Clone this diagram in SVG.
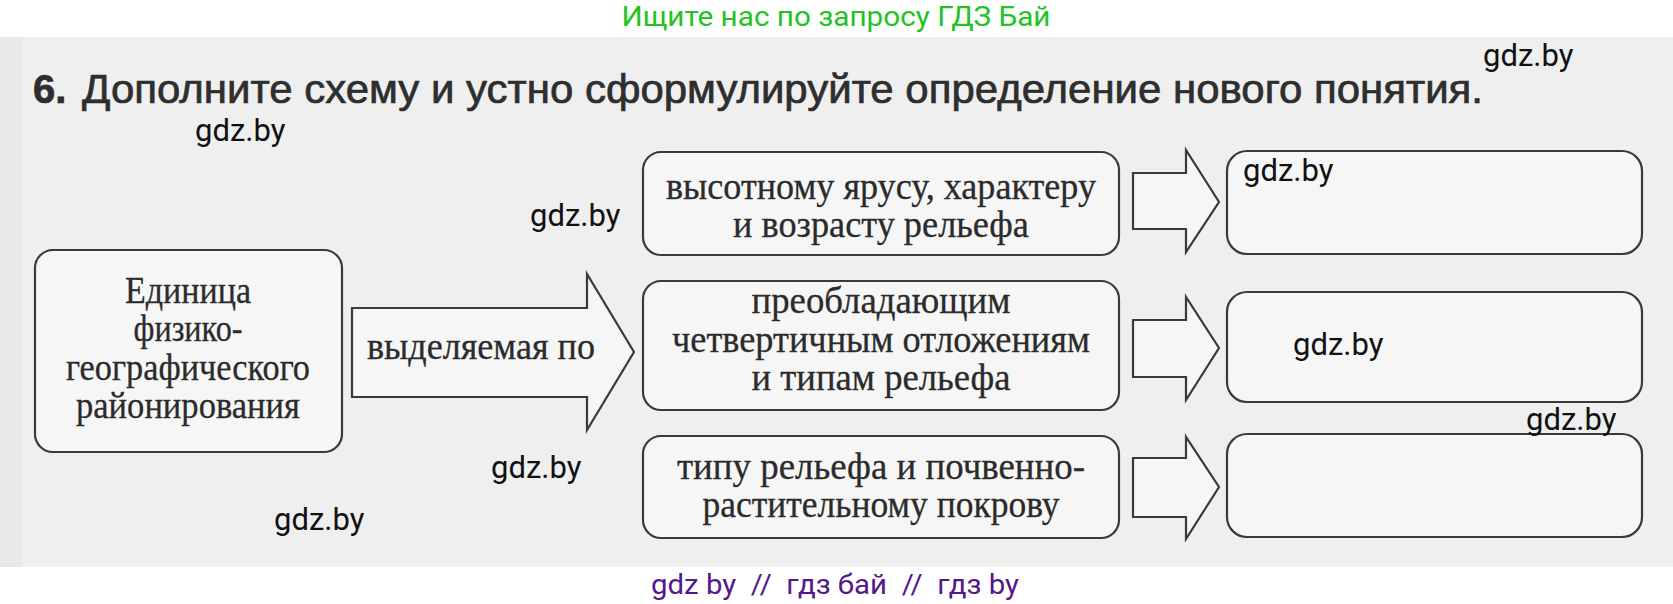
<svg xmlns="http://www.w3.org/2000/svg" width="1673" height="604" viewBox="0 0 1673 604">
  <style>
    .box { fill: #f6f6f6; stroke: #3a3a3a; stroke-width: 2.2; }
    .arr { fill: #f6f6f6; stroke: #3a3a3a; stroke-width: 2.2; stroke-linejoin: miter; }
    .t { font-family: "Liberation Serif", "Times New Roman", serif; font-size: 38px; fill: #2b2b2b; stroke: #2b2b2b; stroke-width: 0.3; text-anchor: middle; }
    .wm { font-family: Roboto, "Liberation Sans", Arial, sans-serif; font-size: 31px; fill: #111; }
    .title { font-family: "Liberation Sans", Arial, sans-serif; font-size: 40px; fill: #2e2e2e; stroke: #2e2e2e; stroke-width: 0.7; }
  </style>
  <rect x="0" y="0" width="1673" height="604" fill="#ffffff"/>
  <rect x="0" y="37" width="1673" height="530" fill="#efefef"/>
  <rect x="0" y="37" width="22" height="530" fill="#e9e9e9"/>

  <text x="836" y="26" font-family="Roboto, 'Liberation Sans', sans-serif" font-size="28" fill="#22c322" text-anchor="middle" textLength="429" lengthAdjust="spacingAndGlyphs">Ищите нас по запросу ГДЗ Бай</text>

  <text class="title" x="33" y="103" font-weight="bold">6.</text>
  <text class="title" x="82" y="103" textLength="1401" lengthAdjust="spacingAndGlyphs">Дополните схему и устно сформулируйте определение нового понятия.</text>

  <g id="connectors">
    <path class="arr" d="M352,308 H587 V274 L634,352 L587,430 V397 H352 Z"/>
    <path class="arr" d="M1133,173 H1186 V150 L1219,202 L1186,252 V229 H1133 Z"/>
    <path class="arr" d="M1133,320 H1186 V297 L1219,348 L1186,400 V377 H1133 Z"/>
    <path class="arr" d="M1133,458 H1186 V437 L1219,487 L1186,539 V517 H1133 Z"/>
    <text class="t" x="481" y="359" textLength="228" lengthAdjust="spacingAndGlyphs">выделяемая по</text>
  </g>

  <g id="node-unit">
    <rect class="box" x="35" y="250" width="307" height="202" rx="18"/>
    <text class="t" x="188" y="303" textLength="126" lengthAdjust="spacingAndGlyphs">Единица</text>
    <text class="t" x="188" y="341" textLength="109" lengthAdjust="spacingAndGlyphs">физико-</text>
    <text class="t" x="188" y="380" textLength="244" lengthAdjust="spacingAndGlyphs">географического</text>
    <text class="t" x="188" y="418" textLength="224" lengthAdjust="spacingAndGlyphs">районирования</text>
  </g>

  <g id="node-top">
    <rect class="box" x="643" y="152" width="476" height="103" rx="18"/>
    <text class="t" x="881" y="199" textLength="430" lengthAdjust="spacingAndGlyphs">высотному ярусу, характеру</text>
    <text class="t" x="881" y="237" textLength="296" lengthAdjust="spacingAndGlyphs">и возрасту рельефа</text>
  </g>

  <g id="node-middle">
    <rect class="box" x="643" y="281" width="476" height="129" rx="18"/>
    <text class="t" x="881" y="313" textLength="259" lengthAdjust="spacingAndGlyphs">преобладающим</text>
    <text class="t" x="881" y="352" textLength="418" lengthAdjust="spacingAndGlyphs">четвертичным отложениям</text>
    <text class="t" x="881" y="390" textLength="259" lengthAdjust="spacingAndGlyphs">и типам рельефа</text>
  </g>

  <g id="node-bottom">
    <rect class="box" x="643" y="436" width="476" height="102" rx="18"/>
    <text class="t" x="881" y="479" textLength="408" lengthAdjust="spacingAndGlyphs">типу рельефа и почвенно-</text>
    <text class="t" x="881" y="517" textLength="357" lengthAdjust="spacingAndGlyphs">растительному покрову</text>
  </g>

  <g id="node-answer-1">
    <rect class="box" x="1227" y="151" width="415" height="103" rx="20"/>
  </g>
  <g id="node-answer-2">
    <rect class="box" x="1227" y="292" width="415" height="110" rx="20"/>
  </g>
  <g id="node-answer-3">
    <rect class="box" x="1227" y="434" width="415" height="103" rx="20"/>
  </g>

  <g id="watermarks">
    <text class="wm" x="1483" y="66">gdz.by</text>
    <text class="wm" x="195" y="141">gdz.by</text>
    <text class="wm" x="530" y="226">gdz.by</text>
    <text class="wm" x="1243" y="181" font-size="22">gdz.by</text>
    <text class="wm" x="1293" y="355">gdz.by</text>
    <text class="wm" x="1526" y="430">gdz.by</text>
    <text class="wm" x="491" y="478">gdz.by</text>
    <text class="wm" x="274" y="530">gdz.by</text>
  </g>

  <text x="835" y="594" font-family="Roboto, 'Liberation Sans', sans-serif" font-size="27" fill="#55178a" text-anchor="middle" textLength="368" lengthAdjust="spacingAndGlyphs">gdz by&#160;&#160;//&#160;&#160;гдз бай&#160;&#160;//&#160;&#160;гдз by</text>
</svg>
